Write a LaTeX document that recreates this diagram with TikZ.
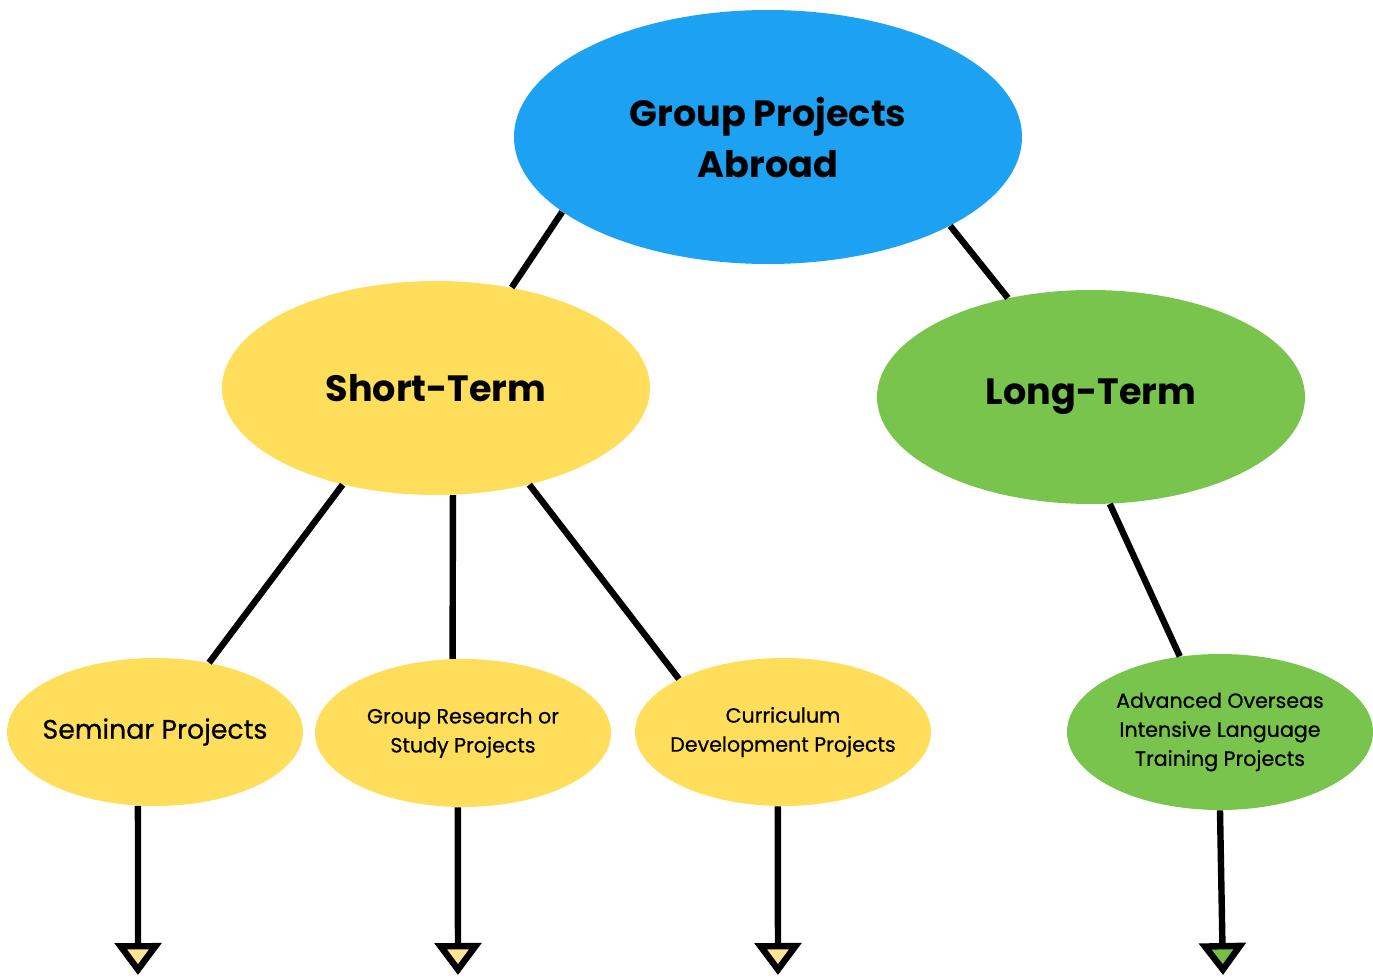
\documentclass[tikz,border=0pt]{standalone}
\usepackage{fontspec}
\setmainfont{Poppins}
\usetikzlibrary{shapes.geometric, arrows.meta}

\definecolor{rootblue}{HTML}{1DA1F2}
\definecolor{shortyellow}{HTML}{FFDE5C}
\definecolor{longgreen}{HTML}{78C44C}
\definecolor{tipyellow}{HTML}{FFE592}
\definecolor{tipgreen}{HTML}{74C046}

\tikzset{
    bubble/.style={ellipse, inner sep=0pt, align=center, text=black},
    bigbubble/.style={bubble, font=\fontsize{18.3}{25.5}\selectfont\bfseries},
    leafbubble/.style={bubble, inner xsep=-14pt, minimum width=148pt, minimum height=74pt, fill=shortyellow, font=\fontsize{10.3}{14.5}\selectfont\addfontfeature{FakeBold=0.6}},
    link/.style={draw=black, line width=3.2pt},
    down/.style={link, -{Triangle[width=23pt, length=16pt, fill=#1]}},
}

\begin{document}
\begin{tikzpicture}[x=0.5pt, y=-0.5pt]

    \useasboundingbox [fill=white] (0,0) rectangle (1373,979);

    \node [bigbubble, fill=rootblue, minimum width=254pt, minimum height=127pt] (root) at (768,137) {Group Projects\\Abroad};
    \node [bigbubble, fill=shortyellow, minimum width=214pt, minimum height=107pt] (short) at (436,388) {\raisebox{-3pt}{Short-Term}};
    \node [bigbubble, fill=longgreen, minimum width=214pt, minimum height=107pt] (long) at (1091,397) {\raisebox{-3pt}{Long-Term}};

    \node [leafbubble, font=\fontsize{13.4}{14.5}\selectfont\addfontfeature{FakeBold=0.6}] (seminar) at (155,732) {Seminar Projects};
    \node [leafbubble] (research) at (463,733) {Group Research or\\Study Projects};
    \node [leafbubble] (curriculum) at (783,732) {Curriculum\\Development Projects};
    \node [leafbubble, fill=longgreen, minimum width=153pt, minimum height=78pt] (advanced) at (1220,732) {Advanced Overseas\\Intensive Language\\Training Projects};

    \coordinate (seminarend) at (138,975);
    \coordinate (researchend) at (458,975);
    \coordinate (curriculumend) at (778,975);
    \coordinate (advancedend) at (1223,975);

    \draw[link] (root.200) -- (short.53);
    \draw[link] (root.-26) -- (long.130);
    \draw[link] (short.226) -- (seminar.52);
    \draw[link] (short.279) -- (research.98);
    \draw[link] (short.-46) -- (curriculum.153);
    \draw[link] (long.-80) -- (advanced.118);

    \draw[down=tipyellow] (seminar.257) -- (seminarend);
    \draw[down=tipyellow] (research.266) -- (researchend);
    \draw[down=tipyellow] (curriculum.266) -- (curriculumend);
    \draw[down=tipgreen] (advanced.270) -- (advancedend);

\end{tikzpicture}
\end{document}
